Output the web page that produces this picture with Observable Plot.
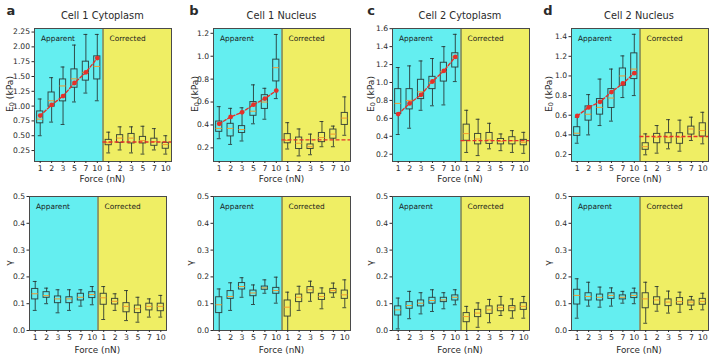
<!DOCTYPE html>
<html><head><meta charset="utf-8">
<script src="https://cdn.jsdelivr.net/npm/d3@7"></script>
<script src="https://cdn.jsdelivr.net/npm/@observablehq/plot@0.6"></script>
<style>
body{margin:0;background:#fff;font-family:"DejaVu Sans",sans-serif;}
#fig{position:relative;width:712px;height:358px;overflow:hidden;background:#fff;}
.abs{position:absolute;white-space:nowrap;color:#2a2a2a;line-height:1;}
.c{transform:translate(-50%,-50%);}
.r{transform:translate(-50%,-50%) rotate(-90deg);}
svg{position:absolute;}
</style></head><body><div id="fig"></div>
<script>
const forces = ["1","2","3","5","7","10"];
const groupNames = ["Apparent","Corrected"];
const titles = ["Cell 1 Cytoplasm","Cell 1 Nucleus","Cell 2 Cytoplasm","Cell 2 Nucleus"];
const letters = ["a","b","c","d"];

// Top row: E0 (kPa). 12 boxes: Apparent 1..10, Corrected 1..10
const aE_lo  = [0.50,0.73,0.69,1.07,1.22,1.09, 0.21,0.26,0.21,0.19,0.26,0.19];
const aE_q1  = [0.71,0.99,1.08,1.31,1.43,1.45, 0.34,0.38,0.37,0.37,0.33,0.28];
const aE_med = [0.78,1.09,1.34,1.46,1.57,1.67, 0.38,0.46,0.46,0.42,0.40,0.35];
const aE_q3  = [0.91,1.23,1.45,1.62,1.75,1.84, 0.43,0.51,0.53,0.48,0.45,0.38];
const aE_hi  = [1.12,1.48,1.66,2.03,2.21,2.21, 0.56,0.65,0.65,0.66,0.62,0.50];
const aE_fit = [0.84,1.02,1.17,1.39,1.57,1.81];
const aE_corr = 0.395;

const bE_lo  = [0.28,0.23,0.26,0.41,0.45,0.63, 0.19,0.13,0.14,0.21,0.21,0.31];
const bE_q1  = [0.34,0.30,0.33,0.48,0.54,0.78, 0.24,0.19,0.19,0.25,0.28,0.40];
const bE_med = [0.37,0.37,0.36,0.52,0.60,0.90, 0.265,0.24,0.21,0.29,0.32,0.46];
const bE_q3  = [0.43,0.41,0.39,0.60,0.66,0.97, 0.32,0.29,0.23,0.33,0.36,0.505];
const bE_hi  = [0.56,0.545,0.55,0.75,0.72,1.19, 0.42,0.365,0.32,0.43,0.39,0.645];
const bE_fit = [0.41,0.47,0.51,0.577,0.63,0.70];
const bE_corr = 0.27;

const cE_lo  = [0.42,0.49,0.69,0.74,0.75,1.01, 0.22,0.185,0.26,0.24,0.22,0.21];
const cE_q1  = [0.65,0.70,0.815,0.926,1.01,1.167, 0.35,0.31,0.315,0.31,0.31,0.30];
const cE_med = [0.767,0.80,0.896,1.0,1.12,1.285, 0.43,0.37,0.36,0.344,0.35,0.333];
const cE_q3  = [0.926,0.926,1.03,1.063,1.22,1.326, 0.53,0.426,0.437,0.37,0.39,0.36];
const cE_hi  = [1.167,1.185,1.24,1.267,1.40,1.537, 0.69,0.59,0.545,0.426,0.463,0.444];
const cE_fit = [0.648,0.767,0.863,1.011,1.13,1.285];
const cE_corr = 0.352;

const dE_lo  = [0.315,0.40,0.495,0.54,0.78,0.80, 0.197,0.214,0.258,0.234,0.343,0.309];
const dE_q1  = [0.39,0.545,0.606,0.674,0.90,0.968, 0.248,0.315,0.315,0.309,0.403,0.383];
const dE_med = [0.417,0.61,0.68,0.775,1.0,1.07, 0.28,0.376,0.376,0.376,0.46,0.444];
const dE_q3  = [0.478,0.69,0.765,0.866,1.076,1.23, 0.315,0.41,0.417,0.417,0.484,0.518];
const dE_hi  = [0.58,0.81,0.968,1.07,1.204,1.424, 0.41,0.495,0.555,0.55,0.58,0.63];
const dE_fit = [0.593,0.68,0.737,0.836,0.924,1.028];
const dE_corr = 0.383;

// Bottom row: gamma
const aG_lo  = [0.075,0.10,0.066,0.075,0.091,0.096, 0.041,0.075,0.037,0.031,0.05,0.05];
const aG_q1  = [0.116,0.122,0.102,0.102,0.112,0.121, 0.096,0.097,0.068,0.065,0.075,0.072];
const aG_med = [0.137,0.13,0.118,0.118,0.124,0.134, 0.122,0.109,0.09,0.081,0.09,0.09];
const aG_q3  = [0.155,0.143,0.127,0.124,0.137,0.143, 0.137,0.118,0.102,0.093,0.10,0.10];
const aG_hi  = [0.183,0.158,0.152,0.152,0.152,0.164, 0.164,0.137,0.149,0.124,0.118,0.131];

const bG_lo  = [0.0,0.075,0.124,0.097,0.139,0.102, 0.0,0.075,0.109,0.081,0.124,0.085];
const bG_q1  = [0.065,0.118,0.153,0.128,0.152,0.137, 0.052,0.106,0.139,0.114,0.139,0.118];
const bG_med = [0.096,0.127,0.164,0.14,0.159,0.149, 0.087,0.124,0.152,0.127,0.149,0.133];
const bG_q3  = [0.124,0.147,0.177,0.149,0.164,0.159, 0.112,0.134,0.162,0.137,0.155,0.149];
const bG_hi  = [0.155,0.178,0.197,0.17,0.189,0.199, 0.143,0.165,0.184,0.159,0.177,0.189];

const cG_lo  = [0.006,0.044,0.062,0.071,0.081,0.096, 0.0,0.012,0.029,0.056,0.046,0.046];
const cG_q1  = [0.056,0.081,0.09,0.10,0.106,0.112, 0.031,0.05,0.062,0.072,0.072,0.077];
const cG_med = [0.077,0.093,0.102,0.112,0.114,0.124, 0.052,0.065,0.077,0.085,0.085,0.09];
const cG_q3  = [0.09,0.106,0.112,0.122,0.122,0.131, 0.065,0.077,0.09,0.093,0.091,0.102];
const cG_hi  = [0.121,0.146,0.141,0.152,0.141,0.152, 0.09,0.103,0.116,0.127,0.118,0.127];

const dG_lo  = [0.046,0.091,0.087,0.091,0.102,0.10, 0.027,0.072,0.065,0.068,0.078,0.077];
const dG_q1  = [0.097,0.112,0.112,0.118,0.116,0.121, 0.083,0.096,0.091,0.096,0.093,0.096];
const dG_med = [0.131,0.127,0.124,0.131,0.124,0.131, 0.118,0.114,0.106,0.108,0.106,0.109];
const dG_q3  = [0.152,0.139,0.134,0.139,0.131,0.139, 0.139,0.124,0.116,0.121,0.112,0.118];
const dG_hi  = [0.193,0.18,0.162,0.159,0.146,0.158, 0.18,0.164,0.147,0.143,0.127,0.139];

const eTicks = [
  d3.range(0.25, 2.26, 0.25),
  d3.range(0.2, 1.21, 0.2),
  d3.range(0.2, 1.61, 0.2),
  d3.range(0.2, 1.41, 0.2)
];
const gTicks = d3.range(0, 0.51, 0.1);

// styling / layout
const CYAN = "#64eef0", YELLOW = "#efee64", BOXC = "#24302f", MEDC = "#f39a2c", RED = "#e4312a";
const W = 137;
const ML = 32, MR = 4, MT = 4, MB = 14;
const topRow = {top: 27.5, h: 133, lefts: [33.8, 213, 391.5, 570.5]};
const botRow = {top: 196, h: 134, lefts: [28.8, 213, 391.5, 570.5]};

const fig = document.getElementById("fig");
const groups = groupNames.map((name, g) => ({name, first: g * 6, last: g * 6 + 5}));

function html(text, x, y, cls, size, weight) {
  const d = document.createElement("div");
  d.className = "abs " + cls;
  d.style.left = x + "px"; d.style.top = y + "px";
  d.style.fontSize = size + "px";
  if (weight) d.style.fontWeight = weight;
  d.innerHTML = text;
  fig.appendChild(d);
}

function panel(s) {
  const rows = s.lo.map((v, i) => ({i, lo: v, q1: s.q1[i], med: s.med[i], q3: s.q3[i], hi: s.hi[i]}));
  const bw = 0.27, cw = 0.17;
  const marks = [
    Plot.rect([groups[0]], {x1: d => d.first - 0.5, x2: d => d.last + 0.5, fill: CYAN}),
    Plot.rect([groups[1]], {x1: d => d.first - 0.5, x2: d => d.last + 0.5, fill: YELLOW}),
    Plot.ruleX([groups[1]], {x: d => d.first - 0.5, stroke: "#3d4b4b", strokeWidth: 1}),
    Plot.text(groups, {x: d => d.first - 0.5, text: "name", frameAnchor: "top", textAnchor: "start", lineAnchor: "middle", dx: 6.5, dy: 10.5, fill: "#1a1a1a", fontSize: 7.4}),
    Plot.ruleX(rows, {x: "i", y1: "lo", y2: "q1", stroke: BOXC, strokeWidth: 1, strokeOpacity: 0.85}),
    Plot.ruleX(rows, {x: "i", y1: "q3", y2: "hi", stroke: BOXC, strokeWidth: 1, strokeOpacity: 0.85}),
    Plot.ruleY(rows, {y: "lo", x1: d => d.i - cw, x2: d => d.i + cw, stroke: BOXC, strokeOpacity: 0.85}),
    Plot.ruleY(rows, {y: "hi", x1: d => d.i - cw, x2: d => d.i + cw, stroke: BOXC, strokeOpacity: 0.85}),
    Plot.rect(rows, {x1: d => d.i - bw, x2: d => d.i + bw, y1: "q1", y2: "q3", fill: "none", stroke: BOXC, strokeWidth: 1, strokeOpacity: 0.85}),
    Plot.ruleY(rows, {y: "med", x1: d => d.i - bw, x2: d => d.i + bw, stroke: MEDC, strokeWidth: 1})
  ];
  if (s.fit) {
    const fitRows = s.fit.map((v, i) => ({i, v}));
    marks.push(
      Plot.ruleY([s.corr], {y: d => d, x1: () => groups[1].first - 0.5, x2: () => groups[1].last + 0.5, stroke: RED, strokeWidth: 1.4, strokeDasharray: "4,2"}),
      Plot.line(fitRows, {x: "i", y: "v", stroke: RED, strokeWidth: 1.4, strokeDasharray: "3,2"}),
      Plot.dot(fitRows, {x: "i", y: "v", r: 2.4, fill: RED, stroke: "none"})
    );
  }
  marks.push(
    Plot.frame({stroke: "#4a4a4a", strokeWidth: 1}),
    Plot.axisX({ticks: d3.range(12), tickFormat: i => forces[i % 6], tickSize: 2, tickPadding: 1.5, label: null, fontSize: 7.8}),
    Plot.axisY({ticks: s.ticks, tickFormat: s.fmt, tickSize: 2.5, tickPadding: 2, label: null, fontSize: 7.6})
  );
  const svg = Plot.plot({
    width: ML + W + MR, height: MT + s.h + MB,
    marginLeft: ML, marginRight: MR, marginTop: MT, marginBottom: MB,
    style: {fontFamily: "DejaVu Sans", fontSize: "7.6px", color: "#2a2a2a", background: "transparent", overflow: "visible"},
    x: {domain: [-0.5, 11.5]},
    y: {domain: s.domain},
    marks
  });
  svg.style.left = (s.left - ML) + "px";
  svg.style.top = (s.top - MT) + "px";
  fig.appendChild(svg);
}

const E = [
  {lo: aE_lo, q1: aE_q1, med: aE_med, q3: aE_q3, hi: aE_hi, fit: aE_fit, corr: aE_corr, domain: [0.065, 2.31], fmt: d3.format(".2f")},
  {lo: bE_lo, q1: bE_q1, med: bE_med, q3: bE_q3, hi: bE_hi, fit: bE_fit, corr: bE_corr, domain: [0.081, 1.242], fmt: d3.format(".1f")},
  {lo: cE_lo, q1: cE_q1, med: cE_med, q3: cE_q3, hi: cE_hi, fit: cE_fit, corr: cE_corr, domain: [0.119, 1.602], fmt: d3.format(".1f")},
  {lo: dE_lo, q1: dE_q1, med: dE_med, q3: dE_q3, hi: dE_hi, fit: dE_fit, corr: dE_corr, domain: [0.129, 1.483], fmt: d3.format(".1f")}
];
const G = [
  {lo: aG_lo, q1: aG_q1, med: aG_med, q3: aG_q3, hi: aG_hi},
  {lo: bG_lo, q1: bG_q1, med: bG_med, q3: bG_q3, hi: bG_hi},
  {lo: cG_lo, q1: cG_q1, med: cG_med, q3: cG_q3, hi: cG_hi},
  {lo: dG_lo, q1: dG_q1, med: dG_med, q3: dG_q3, hi: dG_hi}
];

const eLabelX = [10, 195, 370.5, 549];
const gLabelX = [8.5, 190, 370, 548];
const letterX = [11, 194, 371, 548];

E.forEach((s, k) => {
  const left = topRow.lefts[k];
  panel({...s, ticks: eTicks[k], left, top: topRow.top, h: topRow.h});
  html(titles[k], left + W / 2, 15.5, "c", 9.8);
  html(letters[k], letterX[k], 9.5, "c", 13, "bold");
  html('E<sub style="font-size:6.5px;vertical-align:-1px">0</sub> (kPa)', eLabelX[k], topRow.top + topRow.h / 2, "r", 9.2);
  html("Force (nN)", left + W / 2, 178.5, "c", 8.8);
});
G.forEach((s, k) => {
  const left = botRow.lefts[k];
  panel({...s, ticks: gTicks, fmt: d3.format(".1f"), domain: [0, 0.5], left, top: botRow.top, h: botRow.h});
  html("γ", gLabelX[k], botRow.top + botRow.h / 2, "r", 9.5);
  html("Force (nN)", left + W / 2, 350, "c", 8.8);
});
</script></body></html>
